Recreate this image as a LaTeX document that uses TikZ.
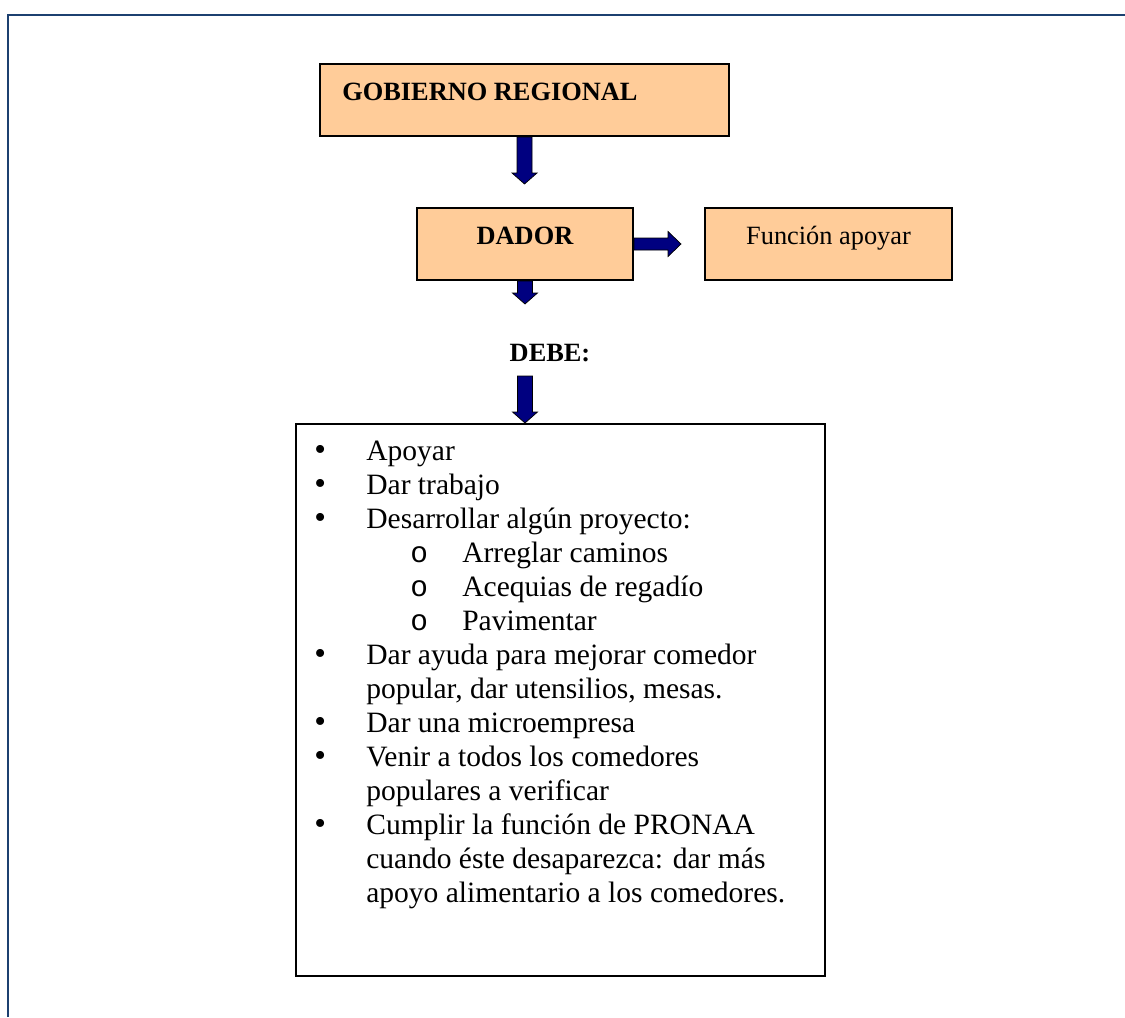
\documentclass[tikz,border=0pt]{standalone}
\usepackage{fontspec}
\setmainfont{Liberation Serif}
\setmonofont{Liberation Mono}
\usetikzlibrary{calc,fit}

\definecolor{framecol}{RGB}{28,64,112}
\definecolor{peach}{RGB}{255,204,153}
\definecolor{navyarrow}{RGB}{0,0,128}

\tikzset{
  peachbox/.style={draw=black, line width=0.04cm, fill=peach, inner sep=0pt},
  whitebox/.style={draw=black, line width=0.04cm, fill=white, inner sep=0pt},
  blockarrow/.style={draw=black, line width=0.4pt, fill=navyarrow, line join=miter},
  txt/.style={font=\fontsize{15}{17.3}\selectfont, inner sep=0pt},
  boldtxt/.style={font=\fontsize{15}{17.3}\selectfont\bfseries, inner sep=0pt},
  listtxt/.style={font=\fontsize{16.8}{19.35}\selectfont, inner sep=0pt, align=left},
}

% block arrow pointing down, from #1 to the tip #2
\newcommand\blockdown[2]{%
  \path[blockarrow] let \p1=(#1), \p2=(#2) in
    (\x1-0.15cm,\y1) -- (\x1+0.15cm,\y1) -- (\x1+0.15cm,\y2+0.22cm)
    -- (\x1+0.25cm,\y2+0.22cm) -- (\x1,\y2) -- (\x1-0.25cm,\y2+0.22cm)
    -- (\x1-0.15cm,\y2+0.22cm) -- cycle;}
% block arrow pointing right, from #1 to the tip #2
\newcommand\blockright[2]{%
  \path[blockarrow] let \p1=(#1), \p2=(#2) in
    (\x1,\y1+0.12cm) -- (\x2-0.26cm,\y1+0.12cm) -- (\x2-0.26cm,\y1+0.25cm)
    -- (\x2,\y1) -- (\x2-0.26cm,\y1-0.25cm) -- (\x2-0.26cm,\y1-0.12cm)
    -- (\x1,\y1-0.12cm) -- cycle;}

% list markers
\newcommand\bul{\llap{\makebox[1.04cm][l]{\fontsize{19}{19}\selectfont •}}}
\newcommand\subit{\hspace*{1.92cm}\llap{\makebox[1.04cm][l]{\ttfamily o}}}
\newcommand\cont{\hspace*{0pt}}

\begin{document}
\begin{tikzpicture}[x=0.02cm, y=-0.02cm]
\useasboundingbox (0,0) rectangle (1125,1017);

% page frame
\draw[framecol, line width=0.05cm] (8,1017) -- (8,15) -- (1125,15);

% boxes
\node[peachbox, fit={(320,64) (729,136)}] (gob) {};
\node[boldtxt, anchor=base west] (gobtxt) at (342,101) {GOBIERNO REGIONAL};

\node[peachbox, fit={(417,208) (633,280)}] (dador) {};
\node[boldtxt, anchor=base] (dadortxt) at (525,244) {DADOR};

\node[peachbox, fit={(705,208) (952,280)}] (func) {};
\node[txt, anchor=base] (functxt) at (828.5,244) {Función apoyar};

\node[boldtxt, anchor=base] (debe) at (550,361) {DEBE:};

\node[whitebox, fit={(296,424) (825,976)}] (list) {};
% the base anchor of this node sits on its last line
\node[listtxt, anchor=base west] (items) at (366,902) {%
\bul Apoyar\\
\bul Dar trabajo\\
\bul Desarrollar algún proyecto:\\
\subit Arreglar caminos\\
\subit Acequias de regadío\\
\subit Pavimentar\\
\bul Dar ayuda para mejorar comedor\\
\cont popular, dar utensilios, mesas.\\
\bul Dar una microempresa\\
\bul Venir a todos los comedores\\
\cont populares a verificar\\
\bul Cumplir la función de PRONAA\\
\cont cuando éste desaparezca: dar más\\
\cont apoyo alimentario a los comedores.};

% arrows
\coordinate (t1) at (525,184);
\blockdown{gob.south}{t1}
\coordinate (t2) at (525,304);
\blockdown{dador.south}{t2}
\coordinate (t3) at (681,244);
\blockright{dador.east}{t3}
\coordinate (s4) at (525,376);
\coordinate (t4) at (s4 |- list.north);
\blockdown{s4}{t4}
\end{tikzpicture}
\end{document}
